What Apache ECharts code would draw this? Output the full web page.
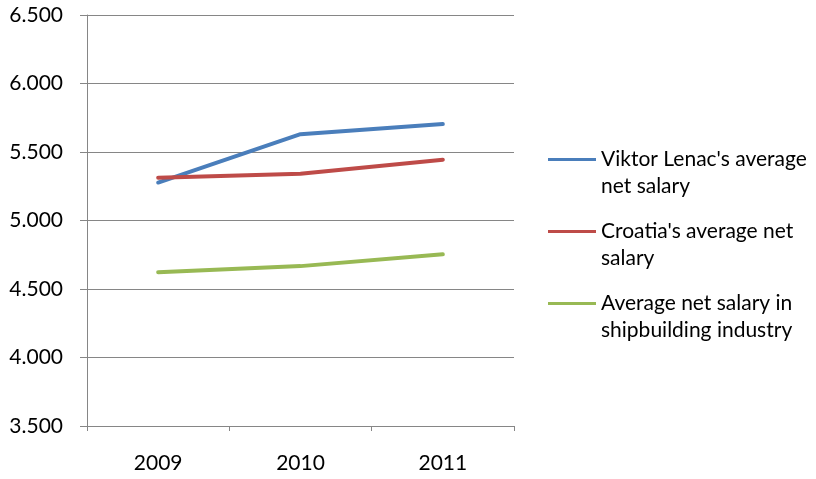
<!DOCTYPE html>
<html>
<head>
<meta charset="utf-8">
<script src="https://cdn.jsdelivr.net/npm/echarts@6/dist/echarts.min.js"></script>
<style>html,body{margin:0;padding:0;background:#fff}#c{width:816px;height:479px}</style>
</head>
<body>
<div id="c"></div>
<script>
var categories = ['2009', '2010', '2011'];
var seriesNames = ["Viktor Lenac's average\nnet salary", "Croatia's average net\nsalary", "Average net salary in\nshipbuilding industry"];
var viktorLenac = [5277, 5630, 5704];
var croatia = [5312, 5342, 5443];
var shipbuilding = [4622, 4667, 4753];
var yTicks = {min: 3500, max: 6500, interval: 500};
var colors = ['#4A7EBB', '#BE4B48', '#98B954'];

var FONT = 'Lato';
var LH = 27;
var chart = echarts.init(document.getElementById('c'), null, {renderer: 'canvas'});
var data = [viktorLenac, croatia, shipbuilding];
var iconY = [159.7, 231.7, 303.3];
var option = {
  animation: false,
  color: colors,
  grid: {left: 87, right: 302, top: 15, bottom: 53},
  legend: seriesNames.map(function (n, i) {
    return {
      data: [n], left: 548, top: Math.round(iconY[i] - 1.5 * LH), padding: 0,
      icon: 'rect', itemWidth: 48, itemHeight: 3, itemGap: 0,
      formatter: function (name) { return '\n' + name; },
      textStyle: {fontFamily: FONT, fontSize: 21, color: '#000', lineHeight: LH}
    };
  }),
  xAxis: {
    type: 'category', data: categories, boundaryGap: true,
    axisLine: {lineStyle: {color: '#868686', width: 1}},
    axisTick: {show: true, length: 5, lineStyle: {color: '#868686'}},
    axisLabel: {fontFamily: FONT, fontSize: 21, color: '#000', margin: 27},
    splitLine: {show: false}
  },
  yAxis: {
    type: 'value', min: yTicks.min, max: yTicks.max, interval: yTicks.interval,
    axisLine: {show: true, lineStyle: {color: '#868686', width: 1}},
    axisTick: {show: true, length: 7, lineStyle: {color: '#868686'}},
    axisLabel: {fontFamily: FONT, fontSize: 21, color: '#000', margin: 24,
      formatter: function (v) { return (v / 1000).toFixed(3); }},
    splitLine: {show: true, lineStyle: {color: '#868686', width: 1}}
  },
  series: data.map(function (d, i) {
    return {
      name: seriesNames[i], type: 'line', data: d, symbol: 'none',
      lineStyle: {width: 4, color: colors[i], cap: 'round', join: 'round'}
    };
  })
};
chart.setOption(option);
</script>
</body>
</html>
